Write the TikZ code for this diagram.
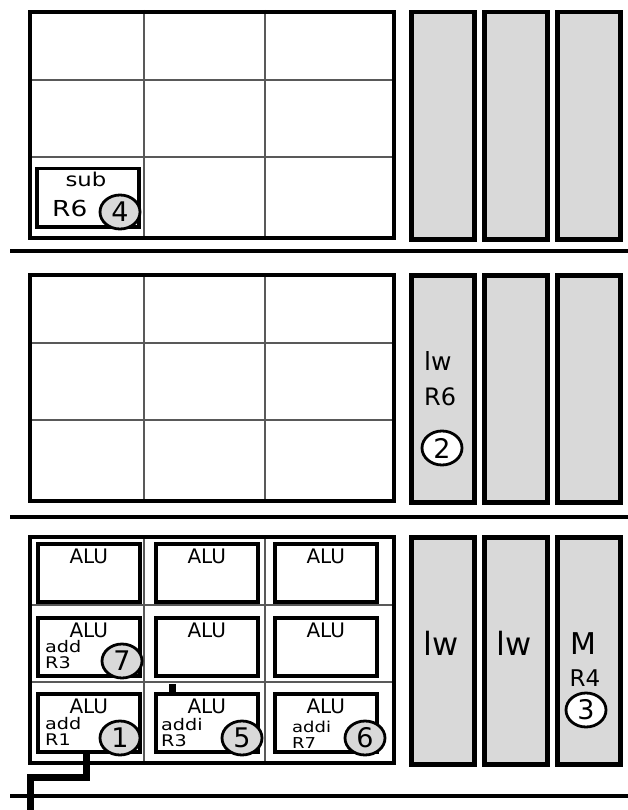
\documentclass[tikz,border=0pt]{standalone}
\usepackage{fontspec}
\setmainfont{DejaVu Sans}
\newfontfamily\widefont[FakeStretch=1.2]{DejaVu Sans}
\usepackage{xcolor}
\usetikzlibrary{shapes.geometric,positioning}
\definecolor{fillgray}{HTML}{D9D9D9}

\begin{document}
\begin{tikzpicture}[x=1pt, y=-1pt,
  frame/.style={draw, line width=4pt, minimum width=364pt, minimum height=226pt,
                anchor=north west, inner sep=0pt},
  gridline/.style={draw=black!65, line width=1.4pt},
  lane/.style={draw, fill=fillgray, line width=4.5pt, minimum width=63pt,
               minimum height=227pt, anchor=north west, inner sep=0pt},
  slot/.style={draw, line width=3.5pt, minimum width=102pt, minimum height=58pt,
               anchor=north west, inner sep=0pt},
  sep/.style={line width=3.5pt},
  wire/.style={line width=7pt, line join=miter},
  unit/.style={font=\fontsize{20}{20}\selectfont, inner sep=0pt, anchor=base},
  op/.style={font=\widefont\fontsize{16}{16.5}\selectfont, inner sep=0pt,
             anchor=north west, align=left},
  tag/.style={ellipse, draw, line width=2.8pt, fill=fillgray, minimum width=40pt,
              minimum height=34pt, inner sep=0pt, font=\fontsize{27}{27}\selectfont},
  tagw/.style={tag, fill=white},
]
\useasboundingbox (0,0) rectangle (628,810);

\def\drawstage#1#2{
  \foreach \cx in {144,265}
    \draw[gridline] (\cx,#1) -- (\cx,#1+226);
  \foreach \ry in {70,147}
    \draw[gridline] (28,#1+\ry) -- (392,#1+\ry);
  \node[frame] (#2) at (28,#1) {};
  \foreach \lx/\k in {409/1,482/2,555/3}
    \node[lane] (#2l\k) at (\lx,#1) {};
}

\drawstage{10}{top}
\drawstage{273}{mid}
\drawstage{535}{bot}

\foreach \sy in {251,517,796}
  \draw[sep] (10,\sy) -- (628,\sy);

\node[slot] (sub) at (35,167) {};
\node[unit, font=\widefont\fontsize{19}{19}\selectfont] (subop) at (86,187) {sub};
\node[unit, anchor=base west, font=\widefont\fontsize{22}{22}\selectfont] (subrg) at (52,216) {R6};
\node[tag] (t4) at (120,212) {4};

\node[unit, anchor=base west, font=\fontsize{25}{25}\selectfont] (midop) at (424,370) {lw};
\node[unit, anchor=base west, font=\fontsize{24}{24}\selectfont] (midrg) at (424,405) {R6};
\node[tagw] (t2) at (442,448) {2};

\foreach \r/\ry in {1/542,2/616,3/692}
  \foreach \c/\cx in {1/36,2/154,3/273} {
    \node[slot] (a\r\c) at (\cx,\ry) {};
    \node[unit] (u\r\c) at ([yshift=-21pt]a\r\c.north) {ALU};
  }

\node[op] (op21) at (45,640) {add\\R3};
\node[op] (op31) at (45,717) {add\\R1};
\node[op] (op32) at (161,718) {addi\\R3};
\node[op, font=\widefont\fontsize{15}{15.5}\selectfont] (op33) at (292,721) {addi\\R7};

\node[tag] (t7) at (122,661) {7};
\node[tag] (t1) at (120,738) {1};
\node[tag] (t5) at (242,738) {5};
\node[tag] (t6) at (365,738) {6};

\node[unit, font=\fontsize{32}{32}\selectfont] (botop1) at (441,655) {lw};
\node[unit, font=\fontsize{32}{32}\selectfont] (botop2) at (514,655) {lw};
\node[unit, font=\fontsize{30}{30}\selectfont] (botop3) at (583,654) {M};
\node[unit, font=\fontsize{23}{23}\selectfont] (botrg3) at (585,686) {R4};
\node[tagw] (t3) at (586,710) {3};

\coordinate (stub) at (172,684);
\draw[wire] (stub) -- (stub |- a32.north);

\coordinate (bend) at (30,777);
\coordinate (tap) at (30,810);
\draw[wire] ([xshift=-2pt]a31.south) |- (bend) -- (tap);

\end{tikzpicture}
\end{document}
